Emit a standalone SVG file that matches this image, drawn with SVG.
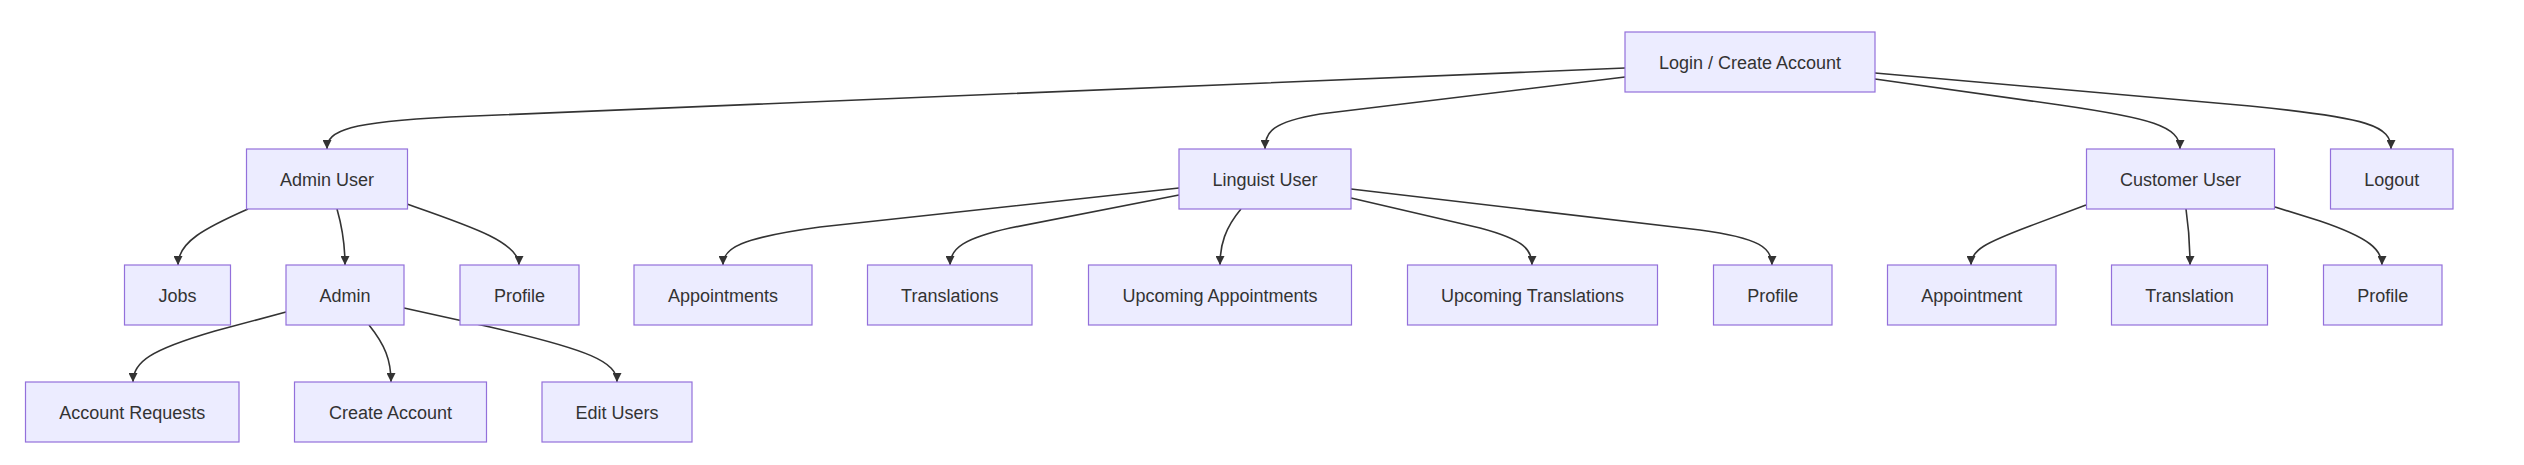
<svg xmlns="http://www.w3.org/2000/svg" width="2524" height="465" viewBox="0 0 2524 465">
<defs>
<style>
.node rect{fill:#ECECFF;stroke:#9370DB;stroke-width:1.2px;}
.node text{font-family:"Liberation Sans",Arial,sans-serif;font-size:18px;fill:#333;text-anchor:middle;}
.edges path{fill:none;stroke:#333;stroke-width:1.6px;marker-end:url(#arrow);}
</style>
<marker id="arrow" viewBox="0 0 10 10" refX="10" refY="5" markerUnits="userSpaceOnUse" markerWidth="9" markerHeight="9" orient="auto">
<path d="M0,0 L10,5 L0,10 z" fill="#333"/>
</marker>
</defs>
<rect width="2524" height="465" fill="#ffffff"/>
<g id="edges" class="edges">
<path d="M1625,68 L450,117 C350,122 327,130 327,149"/>
<path d="M1625,77 L1320,114 C1272,122 1265,132 1265,149"/>
<path d="M1875,79 L2060,105 C2150,118 2180,126 2180,149"/>
<path d="M1875,73 L2250,106 C2370,118 2391,126 2391,149"/>
<path d="M248,209 C205,228 178,242 178,265"/>
<path d="M337,209 C343,230 345,245 345,265"/>
<path d="M407,204 C470,226 519,242 519,265"/>
<path d="M286,312 L215,331 C150,350 133,362 133,382"/>
<path d="M369,325 C385,345 391,360 391,382"/>
<path d="M404,308 L490,327 C590,350 617,362 617,382"/>
<path d="M1179,188 L820,227 C740,238 723,248 723,265"/>
<path d="M1179,195 L1010,228 C965,238 950,248 950,265"/>
<path d="M1241,209 C1225,228 1220,245 1220,265"/>
<path d="M1351,198 L1480,228 C1525,240 1532,250 1532,265"/>
<path d="M1351,189 L1700,230 C1760,238 1772,248 1772,265"/>
<path d="M2086,205 L2030,226 C1985,243 1971,250 1971,265"/>
<path d="M2186,209 C2189,230 2190,245 2190,265"/>
<path d="M2275,207 L2320,221 C2370,238 2382,250 2382,265"/>
</g>
<g id="login" class="node"><rect x="1625" y="32" width="250" height="60"/><text x="1750" y="68.5">Login / Create Account</text></g>
<g id="adminUser" class="node"><rect x="246.5" y="149" width="161" height="60"/><text x="327" y="185.5">Admin User</text></g>
<g id="linguistUser" class="node"><rect x="1179" y="149" width="172" height="60"/><text x="1265" y="185.5">Linguist User</text></g>
<g id="customerUser" class="node"><rect x="2086.5" y="149" width="188" height="60"/><text x="2180.5" y="185.5">Customer User</text></g>
<g id="logout" class="node"><rect x="2330.5" y="149" width="122.5" height="60"/><text x="2391.75" y="185.5">Logout</text></g>
<g id="jobs" class="node"><rect x="124.5" y="265" width="106" height="60"/><text x="177.5" y="301.5">Jobs</text></g>
<g id="admin" class="node"><rect x="286" y="265" width="118" height="60"/><text x="345" y="301.5">Admin</text></g>
<g id="adminProfile" class="node"><rect x="460" y="265" width="119" height="60"/><text x="519.5" y="301.5">Profile</text></g>
<g id="appointments" class="node"><rect x="634" y="265" width="178" height="60"/><text x="723" y="301.5">Appointments</text></g>
<g id="translations" class="node"><rect x="867.5" y="265" width="164.5" height="60"/><text x="949.75" y="301.5">Translations</text></g>
<g id="upcomingAppointments" class="node"><rect x="1088.5" y="265" width="263" height="60"/><text x="1220" y="301.5">Upcoming Appointments</text></g>
<g id="upcomingTranslations" class="node"><rect x="1407.5" y="265" width="250" height="60"/><text x="1532.5" y="301.5">Upcoming Translations</text></g>
<g id="linguistProfile" class="node"><rect x="1713.5" y="265" width="118.5" height="60"/><text x="1772.75" y="301.5">Profile</text></g>
<g id="appointment" class="node"><rect x="1887.5" y="265" width="168.5" height="60"/><text x="1971.75" y="301.5">Appointment</text></g>
<g id="translation" class="node"><rect x="2111.5" y="265" width="156" height="60"/><text x="2189.5" y="301.5">Translation</text></g>
<g id="customerProfile" class="node"><rect x="2323.5" y="265" width="118.5" height="60"/><text x="2382.75" y="301.5">Profile</text></g>
<g id="accountRequests" class="node"><rect x="25.5" y="382" width="213.5" height="60"/><text x="132.25" y="418.5">Account Requests</text></g>
<g id="createAccount" class="node"><rect x="294.5" y="382" width="192" height="60"/><text x="390.5" y="418.5">Create Account</text></g>
<g id="editUsers" class="node"><rect x="542" y="382" width="150" height="60"/><text x="617" y="418.5">Edit Users</text></g>
</svg>
